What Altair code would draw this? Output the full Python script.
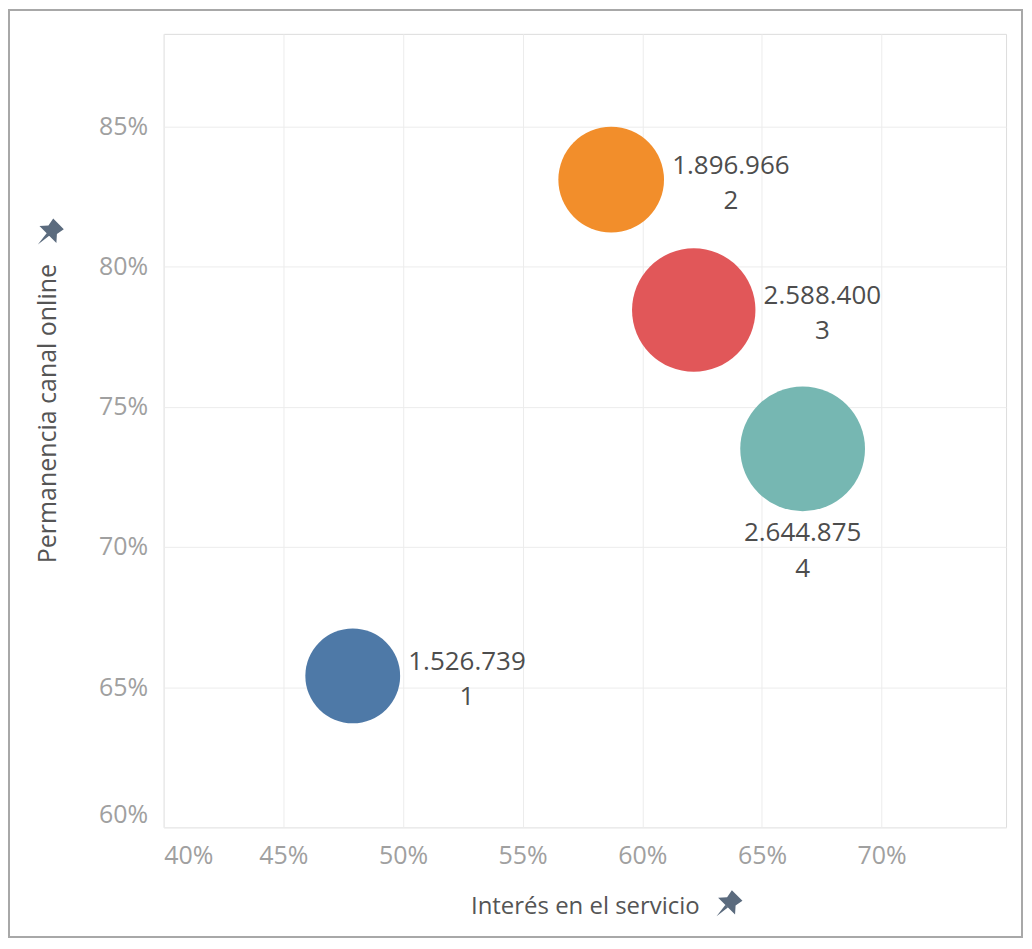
import altair as alt
import pandas as pd

# ---- data ----
clusters = ["1", "2", "3", "4"]
interes = [0.479, 0.587, 0.6215, 0.667]          # Interés en el servicio
permanencia = [0.654, 0.831, 0.7845, 0.735]      # Permanencia canal online
poblacion = [1526739, 1896966, 2588400, 2644875]
colores = ["#4e79a7", "#f28e2b", "#e15759", "#76b7b2"]

x_ticks = [0.40, 0.45, 0.50, 0.55, 0.60, 0.65, 0.70]
y_ticks = [0.60, 0.65, 0.70, 0.75, 0.80, 0.85]

labels = [f"{v:,}".replace(",", ".") + "\n" + c for v, c in zip(poblacion, clusters)]

df = pd.DataFrame({
    "cluster": clusters,
    "interes": interes,
    "permanencia": permanencia,
    "poblacion": poblacion,
    "label": labels,
})

W, H = 844, 795
R_MAX = 62.5
MAXV = max(poblacion)
FONT = "Open Sans"

x_enc = alt.X(
    "interes:Q",
    scale=alt.Scale(domain=[0.40, 0.752], nice=False, zero=False),
    axis=alt.Axis(
        values=x_ticks, format=".0%", labelFontSize=25, labelColor="#a0a0a0",
        labelFont=FONT, labelPadding=16, ticks=False, tickSize=0, domain=False,
        gridColor="#ececec", labelFlush=True,
        title="Interés en el servicio", titleFont=FONT, titleFontSize=24,
        titleFontWeight="normal", titleColor="#555555", titleY=79,
        titleBaseline="middle",
    ),
)
y_enc = alt.Y(
    "permanencia:Q",
    scale=alt.Scale(domain=[0.60, 0.883], nice=False, zero=False),
    axis=alt.Axis(
        values=y_ticks, format=".0%", labelFontSize=25, labelColor="#a0a0a0",
        labelFont=FONT, labelPadding=16, ticks=False, tickSize=0, domain=False,
        gridColor="#ececec", labelFlush=True,
        title="Permanencia canal online", titleFont=FONT, titleFontSize=25,
        titleFontWeight="normal", titleColor="#555555", titleX=-116, titleY=380,
        titleBaseline="middle", titleAngle=270,
    ),
)

base = alt.Chart(df)

# Vega circle: radius = sqrt(size) / 2  -> size = (2r)^2
bubbles = base.mark_circle(opacity=1).encode(
    x=x_enc,
    y=y_enc,
    size=alt.Size("poblacion:Q", scale=alt.Scale(domain=[0, MAXV], range=[0, (2 * R_MAX) ** 2]), legend=None),
    color=alt.Color("cluster:N", scale=alt.Scale(domain=clusters, range=colores), legend=None),
)

r_expr = f"{R_MAX}*sqrt(datum.poblacion/{MAXV})"
LH = 35

labels_right = base.transform_filter("datum.cluster != '4'").mark_text(
    align="center", baseline="middle", lineBreak="\n", lineHeight=LH,
    fontSize=26, font=FONT, color="#4d4d4d",
    dx=alt.ExprRef(f"{r_expr} + 67"), dy=-14,
).encode(x=x_enc, y=y_enc, text="label:N")

labels_below = base.transform_filter("datum.cluster == '4'").mark_text(
    align="center", baseline="middle", lineBreak="\n", lineHeight=LH + 1,
    fontSize=26, font=FONT, color="#4d4d4d",
    dy=alt.ExprRef(f"{r_expr} + 22"),
).encode(x=x_enc, y=y_enc, text="label:N")

one = alt.Chart(pd.DataFrame({"k": [0]}))

frame = one.mark_rect(fillOpacity=0, stroke="#a8a8a8", strokeWidth=2).encode(
    x=alt.value(-155), x2=alt.value(860), y=alt.value(-24), y2=alt.value(905)
)

pin_path = ("M-0.5,-1 L0.5,-1 L0.4,-0.45 L0.8,0 L-0.8,0 L-0.4,-0.45 Z "
            "M-0.12,0 L0.12,0 L0,0.95 Z")
pin_x = one.mark_point(shape=pin_path, filled=True, size=900, angle=45,
                       color="#5b6b7e", opacity=1).encode(x=alt.value(564), y=alt.value(874))
pin_y = one.mark_point(shape=pin_path, filled=True, size=900, angle=45,
                       color="#5b6b7e", opacity=1).encode(x=alt.value(-116), y=alt.value(201))

chart = alt.layer(frame, bubbles, labels_right, labels_below, pin_x, pin_y).properties(
    width=W, height=H,
    autosize=alt.AutoSizeParams(type="none"),
    padding={"left": 156, "top": 25, "right": 18, "bottom": 112},
).configure_view(stroke=None).configure(background="white")

chart.save("out.html", embed_options={"renderer": "svg", "actions": False})
